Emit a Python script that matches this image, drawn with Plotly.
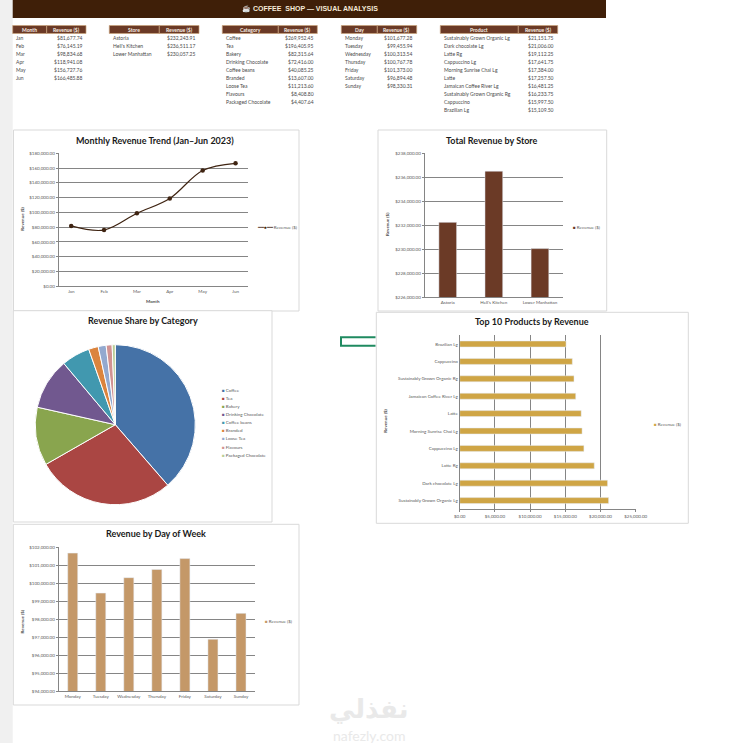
import plotly.graph_objects as go

W, H = 740, 743

months = ['Jan', 'Feb', 'Mar', 'Apr', 'May', 'Jun']
month_rev = [81677.74, 76145.19, 98834.68, 118941.08, 156727.76, 166485.88]
stores = ['Astoria', "Hell's Kitchen", 'Lower Manhattan']
store_rev = [232243.91, 236511.17, 230057.25]
categories = ['Coffee', 'Tea', 'Bakery', 'Drinking Chocolate', 'Coffee beans',
              'Branded', 'Loose Tea', 'Flavours', 'Packaged Chocolate']
category_rev = [269952.45, 196405.95, 82315.64, 72416.00, 40085.25,
                13607.00, 11213.60, 8408.80, 4407.64]
days = ['Monday', 'Tuesday', 'Wednesday', 'Thursday', 'Friday', 'Saturday', 'Sunday']
day_rev = [101677.28, 99455.94, 100313.54, 100767.78, 101373.00, 96894.48, 98330.31]
products = ['Sustainably Grown Organic Lg', 'Dark chocolate Lg', 'Latte Rg', 'Cappuccino Lg',
            'Morning Sunrise Chai Lg', 'Latte', 'Jamaican Coffee River Lg',
            'Sustainably Grown Organic Rg', 'Cappuccino', 'Brazilian Lg']
product_rev = [21151.75, 21006.00, 19112.25, 17641.75, 17384.00,
               17257.50, 16481.25, 16233.75, 15997.50, 15109.50]

pie_colors = ['#4572a7', '#aa4643', '#89a54e', '#71588f', '#4198af',
              '#db843d', '#93a9cf', '#d19392', '#b9cd96']

FONT = 'Lato'
BROWN = '#6b3a26'
GRID = '#858585'
TICK = '#595959'


def px_x(x):
    return x / W


def px_y(y):
    return 1 - y / H


shapes = []
notes = []


def box(x0, y0, x1, y1, fill=None, line=None, lw=1):
    shapes.append(dict(type='rect', xref='paper', yref='paper', layer='below',
                       x0=px_x(x0), x1=px_x(x1), y0=px_y(y0), y1=px_y(y1),
                       fillcolor=fill, line=dict(color=line, width=lw if line else 0)))


def note(x, y, text, size=5, color='#4a4a4a', anchor='center', angle=0, bold=False, family=FONT):
    if bold:
        text = '<b>' + text + '</b>'
    notes.append(dict(xref='paper', yref='paper', x=px_x(x), y=px_y(y), text=text,
                      showarrow=False, xanchor=anchor, yanchor='middle', textangle=angle,
                      font=dict(family=family, size=size, color=color)))


# background bits
box(0, 0, 12.7, H, fill='#f0f0f0')
box(12.7, 0, 606, 18, fill='#3f1f08')
note(310, 8.5, '☕ COFFEE  SHOP — VISUAL ANALYSIS', size=7, color='#f5ead8', bold=True, family='Liberation Sans')

# the small tables along the top
tables = [
    ('Month', months, month_rev, 12.7, 46.7, 86),
    ('Store', stores, store_rev, 109.3, 159.3, 199),
    ('Category', categories, category_rev, 222.3, 278.3, 317.3),
    ('Day', days, day_rev, 341.3, 377.3, 416.7),
    ('Product', products, product_rev, 440.3, 518.3, 557.7),
]
for name, labels, vals, x0, xm, x1 in tables:
    box(x0, 25.5, xm, 33.5, fill=BROWN, line='#c9a27a', lw=0.7)
    box(xm, 25.5, x1, 33.5, fill=BROWN, line='#c9a27a', lw=0.7)
    note((x0 + xm) / 2, 29.7, name, color='#f7efe6', bold=True)
    note((xm + x1) / 2, 29.7, 'Revenue ($)', color='#f7efe6', bold=True)
    for i, (lab, v) in enumerate(zip(labels, vals)):
        note(x0 + 1.5, 38 + i * 8, lab, anchor='left')
        note(x1 - 1.5, 38 + i * 8, '${:,.2f}'.format(v), anchor='right')

# chart frames
box(13.5, 130, 299, 311, fill='white', line='#d9d9d9')
box(378, 130, 606.7, 311, fill='white', line='#d9d9d9')
box(376.3, 312.3, 688.3, 523.3, fill='white', line='#d9d9d9')
box(13.3, 310.7, 272, 522, fill='white', line='#d9d9d9')
box(13.3, 524.3, 299, 705, fill='white', line='#d9d9d9')

# excel selection handle left of the products chart
shapes.append(dict(type='path', xref='paper', yref='paper', layer='above',
                   path='M {} {} L {} {} L {} {} L {} {}'.format(
                       px_x(375.5), px_y(337.3), px_x(341), px_y(337.3),
                       px_x(341), px_y(345.7), px_x(375.5), px_y(345.7)),
                   line=dict(color='#1f8a60', width=2)))

fig = go.Figure()

fig.add_trace(go.Scatter(x=months, y=month_rev, mode='lines+markers', xaxis='x', yaxis='y',
                         line=dict(color='#3f2412', width=1.2, shape='spline', smoothing=1),
                         marker=dict(color='#3f2412', size=4.5)))
fig.add_trace(go.Bar(x=stores, y=store_rev, xaxis='x2', yaxis='y2', marker_color=BROWN, width=0.385))
fig.add_trace(go.Pie(labels=categories, values=category_rev, sort=False, direction='clockwise',
                     rotation=0, textinfo='none', hoverinfo='label+percent',
                     marker=dict(colors=pie_colors, line=dict(color='white', width=1)),
                     domain=dict(x=[px_x(35.3), px_x(195.3)], y=[px_y(504.7), px_y(344.7)])))
fig.add_trace(go.Bar(y=products, x=product_rev, orientation='h', xaxis='x3', yaxis='y3',
                     marker_color='#cfa545', width=0.345))
fig.add_trace(go.Bar(x=days, y=day_rev, xaxis='x4', yaxis='y4', marker_color='#c49868', width=0.357))

tickfont = dict(family=FONT, size=4.5, color=TICK)
cat_axis = dict(automargin=False, showgrid=False, showline=True, linecolor=GRID, linewidth=1, ticks='',
                tickfont=tickfont, fixedrange=True)
val_axis = dict(automargin=False, showgrid=True, gridcolor=GRID, gridwidth=1, showline=True,
                linecolor=GRID, linewidth=1, zeroline=False, ticks='outside', ticklen=2, tickcolor=GRID,
                tickformat='$,.2f', tickfont=tickfont, fixedrange=True)

fig.update_layout(
    width=W, height=H, margin=dict(l=0, r=0, t=0, b=0), autosize=False,
    paper_bgcolor='white', plot_bgcolor='rgba(0,0,0,0)', showlegend=False,
    font=dict(family=FONT),
    shapes=shapes,
    xaxis=dict(cat_axis, domain=[px_x(58.7), px_x(248)], anchor='y'),
    yaxis=dict(val_axis, domain=[px_y(286.3), px_y(153.3)], anchor='x',
               range=[0, 180000], dtick=20000),
    xaxis2=dict(cat_axis, domain=[px_x(424.7), px_x(563)], anchor='y2'),
    yaxis2=dict(val_axis, domain=[px_y(297.3), px_y(153.3)], anchor='x2',
                range=[226000, 238000], dtick=2000),
    xaxis3=dict(val_axis, domain=[px_x(459.7), px_x(635.7)], anchor='y3',
                range=[0, 25000], dtick=5000),
    yaxis3=dict(cat_axis, domain=[px_y(509.3), px_y(335.3)], anchor='x3'),
    xaxis4=dict(cat_axis, domain=[px_x(58.7), px_x(255)], anchor='y4'),
    yaxis4=dict(val_axis, domain=[px_y(691.3), px_y(547.3)], anchor='x4',
                range=[94000, 102000], dtick=1000),
)

# titles
note(155, 140, 'Monthly Revenue Trend (Jan–Jun 2023)', size=9, color='#1a1a1a', bold=True)
note(492, 140, 'Total Revenue by Store', size=9, color='#1a1a1a', bold=True)
note(143, 320, 'Revenue Share by Category', size=9, color='#1a1a1a', bold=True)
note(531.7, 322, 'Top 10 Products by Revenue', size=9, color='#1a1a1a', bold=True)
note(155.7, 533.7, 'Revenue by Day of Week', size=9, color='#1a1a1a', bold=True)

# axis titles
for x, y in [(22.7, 219), (388, 224), (385.7, 421), (22.7, 621.7)]:
    note(x, y, 'Revenue ($)', size=4.5, angle=-90, bold=True)
note(152.7, 301, 'Month', size=4.5, bold=True)

# legends
note(255, 227, '<span style="color:#3f2412">━━●━━</span> Revenue ($)', size=4.5, color=TICK, anchor='left')
note(570.5, 227, '<span style="color:%s">■</span> Revenue ($)' % BROWN, size=4.5, color=TICK, anchor='left')
note(651.5, 424.3, '<span style="color:#cfa545">■</span> Revenue ($)', size=4.5, color=TICK, anchor='left')
note(262.5, 621, '<span style="color:#c49868">■</span> Revenue ($)', size=4.5, color=TICK, anchor='left')
for i, (lab, c) in enumerate(zip(categories, pie_colors)):
    note(219.5, 390.3 + i * 8.1, '<span style="color:%s">■</span> %s' % (c, lab), size=4.5, color=TICK, anchor='left')

# watermark
note(369, 709, 'نفذلي', size=26, color='#e9e9e9', family='DejaVu Sans', bold=True)
note(369, 735, 'nafezly.com', size=14, color='#e9e9e9')

fig.update_layout(annotations=notes)

fig.write_html("out.html", config=dict(displayModeBar=False),
               post_script="document.body.style.margin='0';document.body.style.overflow='hidden';")
